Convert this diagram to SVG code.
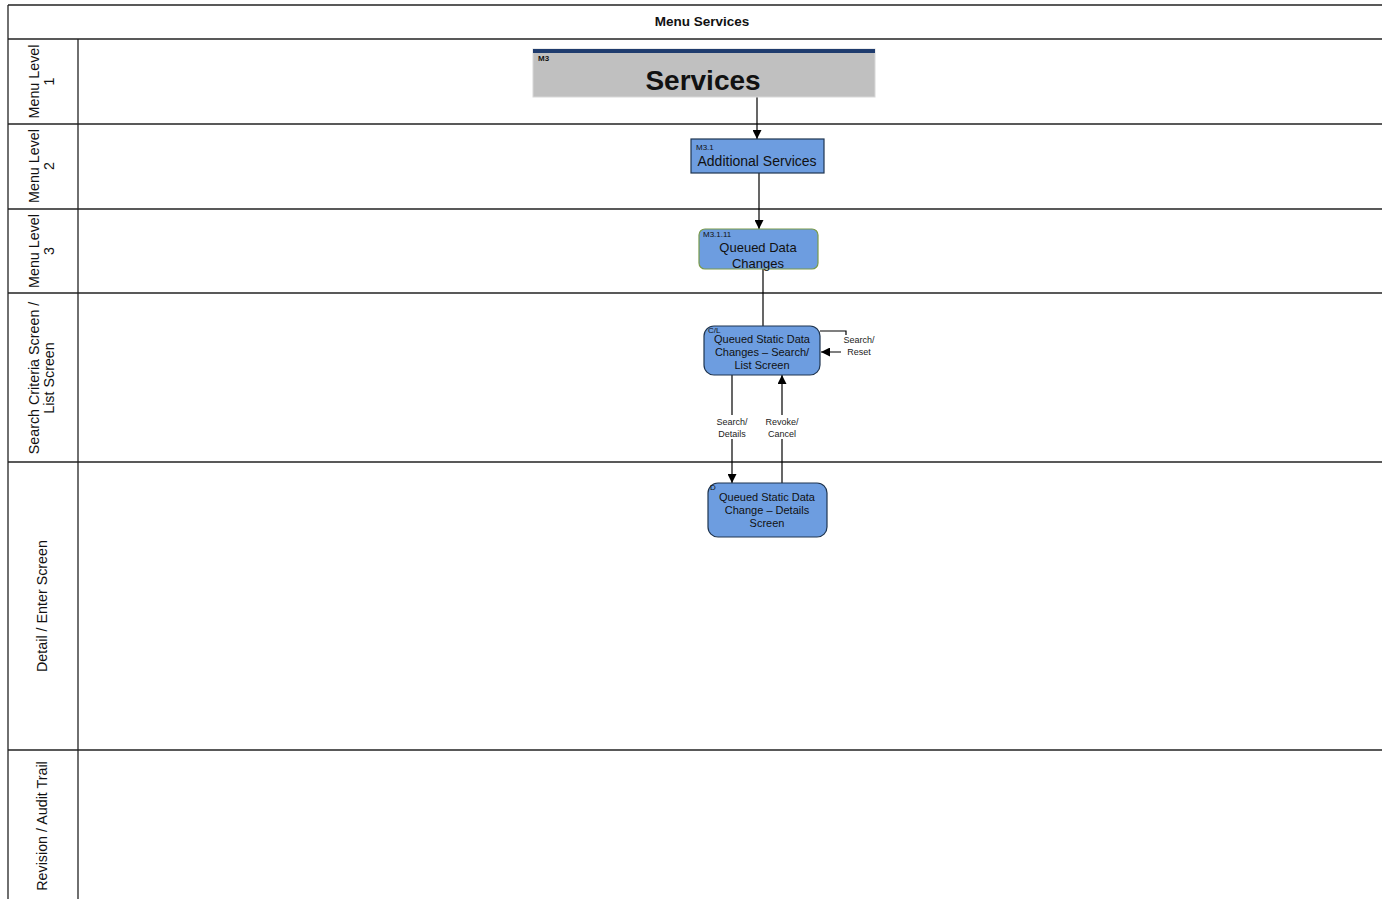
<svg xmlns="http://www.w3.org/2000/svg" width="1382" height="899" viewBox="0 0 1382 899">
<style>
.frame{stroke:#222;stroke-width:1.3;fill:none}
.lane{font-family:"Liberation Sans",Arial,sans-serif;font-size:14.3px;fill:#111;text-anchor:middle}
.conn{stroke:#000;stroke-width:1.2;fill:none}
.node{fill:#6d9de0;stroke:#1f3550;stroke-width:1.2}
.t{font-family:"Liberation Sans",Arial,sans-serif;fill:#111;text-anchor:middle}
.small{font-family:"Liberation Sans",Arial,sans-serif;font-size:8px;fill:#111}
.lbl{font-family:"Liberation Sans",Arial,sans-serif;font-size:9px;fill:#222;text-anchor:middle}
</style>
<defs>
<marker id="ah" viewBox="0 0 10 10" refX="10" refY="5" markerWidth="9" markerHeight="9" markerUnits="userSpaceOnUse" orient="auto">
<path d="M0,0 L10,5 L0,10 z" fill="#000"/>
</marker>
</defs>
<rect width="1382" height="899" fill="#fff"/>
<g id="pool">
<line class="frame" x1="8" y1="5" x2="1382" y2="5"/>
<line class="frame" x1="8" y1="39" x2="1382" y2="39"/>
<line class="frame" x1="8" y1="124" x2="1382" y2="124"/>
<line class="frame" x1="8" y1="209" x2="1382" y2="209"/>
<line class="frame" x1="8" y1="293" x2="1382" y2="293"/>
<line class="frame" x1="8" y1="462" x2="1382" y2="462"/>
<line class="frame" x1="8" y1="750" x2="1382" y2="750"/>
<line class="frame" x1="8" y1="5" x2="8" y2="899"/>
<line class="frame" x1="78" y1="39" x2="78" y2="899"/>
<text x="702" y="26" class="t" font-size="13.5" font-weight="bold">Menu Services</text>
<text class="lane" transform="translate(39,81.5) rotate(-90)"><tspan x="0" y="0">Menu Level</tspan><tspan x="0" y="15">1</tspan></text>
<text class="lane" transform="translate(39,166) rotate(-90)"><tspan x="0" y="0">Menu Level</tspan><tspan x="0" y="15">2</tspan></text>
<text class="lane" transform="translate(39,251) rotate(-90)"><tspan x="0" y="0">Menu Level</tspan><tspan x="0" y="15">3</tspan></text>
<text class="lane" transform="translate(39,378) rotate(-90)"><tspan x="0" y="0">Search Criteria Screen /</tspan><tspan x="0" y="15">List Screen</tspan></text>
<text class="lane" transform="translate(47,606) rotate(-90)">Detail / Enter Screen</text>
<text class="lane" transform="translate(47,826) rotate(-90)">Revision / Audit Trail</text>
</g>
<g id="connectors">
<line class="conn" x1="757" y1="97" x2="757" y2="139" marker-end="url(#ah)"/>
<line class="conn" x1="759" y1="173" x2="759" y2="229" marker-end="url(#ah)"/>
<line class="conn" x1="763" y1="269" x2="763" y2="326"/>
<path class="conn" d="M820,331 H846 V352 H821" marker-end="url(#ah)"/>
<rect x="841" y="335" width="36" height="23" fill="#fff"/>
<text class="lbl" x="859" y="343">Search/</text>
<text class="lbl" x="859" y="355">Reset</text>
<line class="conn" x1="732" y1="375" x2="732" y2="483" marker-end="url(#ah)"/>
<line class="conn" x1="782" y1="483" x2="782" y2="375" marker-end="url(#ah)"/>
<rect x="713" y="415" width="38" height="24" fill="#fff"/>
<rect x="762" y="415" width="40" height="24" fill="#fff"/>
<text class="lbl" x="732" y="425">Search/</text>
<text class="lbl" x="732" y="437">Details</text>
<text class="lbl" x="782" y="425">Revoke/</text>
<text class="lbl" x="782" y="437">Cancel</text>
</g>
<g id="n_services">
<rect x="533" y="49" width="342" height="48" fill="#c0c0c0" stroke="#d8d8d8" stroke-width="1"/>
<rect x="533" y="49" width="342" height="4" fill="#1f3c6e"/>
<text x="538" y="61" class="small" font-weight="bold">M3</text>
<text x="703" y="90" class="t" font-size="28" font-weight="bold">Services</text>
</g>
<g id="n_additional">
<rect class="node" x="691" y="139" width="133" height="34"/>
<text x="696" y="150" class="small">M3.1</text>
<text x="757" y="166" class="t" font-size="14">Additional Services</text>
</g>
<g id="n_queued">
<rect x="699" y="229" width="119" height="40" rx="6" fill="#6d9de0" stroke="#7a9a4a" stroke-width="1.2"/>
<text x="703" y="237" class="small">M3.1.11</text>
<text x="758" y="252" class="t" font-size="13">Queued Data</text>
<text x="758" y="268" class="t" font-size="13">Changes</text>
</g>
<g id="n_search">
<rect class="node" x="704" y="326" width="116" height="49" rx="10"/>
<text x="708" y="333" class="small">C/L</text>
<text x="762" y="343" class="t" font-size="11">Queued Static Data</text>
<text x="762" y="356" class="t" font-size="11">Changes – Search/</text>
<text x="762" y="369" class="t" font-size="11">List Screen</text>
</g>
<g id="n_detail">
<rect class="node" x="708" y="483" width="119" height="54" rx="10"/>
<text x="710" y="490" class="small">D</text>
<text x="767" y="501" class="t" font-size="11">Queued Static Data</text>
<text x="767" y="514" class="t" font-size="11">Change – Details</text>
<text x="767" y="527" class="t" font-size="11">Screen</text>
</g>
</svg>
